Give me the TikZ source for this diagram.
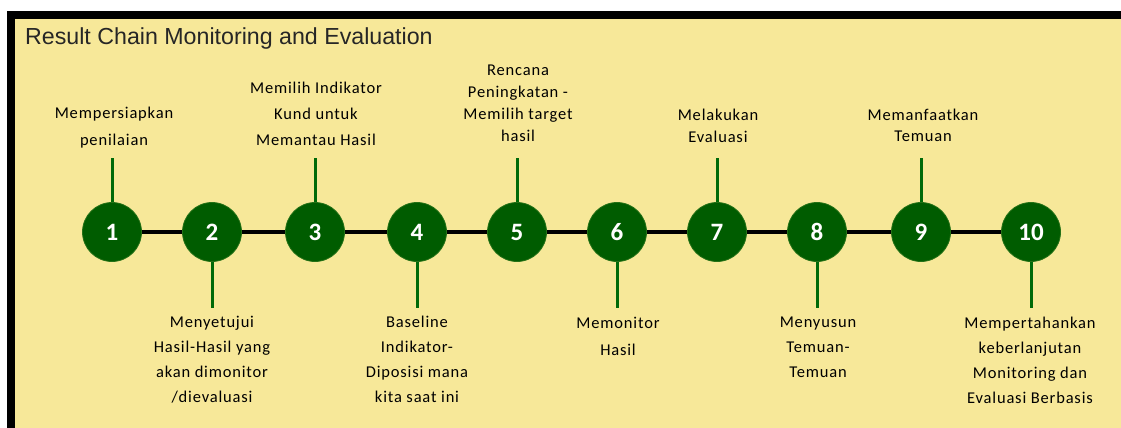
\documentclass[tikz,border=0pt]{standalone}
\usepackage{fontspec}
\setmainfont{Carlito}
\newfontfamily\labelfont[LetterSpace=5]{Carlito}
\newfontfamily\titlefont{Liberation Sans}
\definecolor{paper}{HTML}{F7E899}
\definecolor{stepgreen}{HTML}{005C00}
\definecolor{stemgreen}{HTML}{006A08}
\begin{document}
\begin{tikzpicture}[x=1pt,y=-1pt,
  stepdot/.style={circle,fill=stepgreen,draw=stepgreen!85!paper,line width=0.8pt,minimum size=59pt,inner sep=0pt,
    text=white,font=\fontsize{25}{25}\selectfont\bfseries},
  chainline/.style={line width=4pt,black},
  stemline/.style={line width=3pt,stemgreen},
  steplabel/.style={anchor=north,align=center,inner sep=0pt,
    font=\labelfont\fontsize{16.5}{#1}\selectfont},
  steplabel/.default=25]
% page, frame and panel
\useasboundingbox (0,0) rectangle (1121,428);
\fill[white] (0,0) rectangle (1121,428);
\fill[black] (7,11) rectangle (1121,428);
\fill[paper] (15,19) rectangle (1121,428);
\node[anchor=base west,inner sep=0pt,font=\titlefont\fontsize{23.2}{23}\selectfont,text=black!85]
  (title) at (25,45) {Result Chain Monitoring and Evaluation};

% the ten steps
\foreach \i/\x in {1/112,2/212,3/315,4/417,5/517,6/617,7/717,8/817,9/921,10/1031}
  \node[stepdot] (c\i) at (\x,232) {\i};

% chain between steps
\foreach \a/\b in {1/2,2/3,3/4,4/5,5/6,6/7,7/8,8/9,9/10}
  \draw[chainline] (c\a.east) -- (c\b.west);

% stem ends
\coordinate (s1) at (112,158);
\coordinate (s3) at (315,158);
\coordinate (s5) at (517,158);
\coordinate (s7) at (717,158);
\coordinate (s9) at (921,158);
\coordinate (s2) at (212,308);
\coordinate (s4) at (417,308);
\coordinate (s6) at (617,308);
\coordinate (s8) at (817,308);
\coordinate (s10) at (1031,308);
\foreach \i in {1,3,5,7,9}
  \draw[stemline] (c\i.north) -- (s\i);
\foreach \i in {2,4,6,8,10}
  \draw[stemline] (c\i.south) -- (s\i);

% labels above
\node[steplabel=27] (l1) at (114,107) {Mempersiapkan\\penilaian};
\node[steplabel=26] (l3) at (316,82) {Memilih Indikator\\Kund untuk\\Memantau Hasil};
\node[steplabel=22] (l5) at (518,65) {Rencana\\Peningkatan -\\Memilih target\\hasil};
\node[steplabel=22] (l7) at (718,109) {Melakukan\\Evaluasi};
\node[steplabel=21] (l9) at (923,109) {Memanfaatkan\\Temuan};
% labels below
\node[steplabel=25] (l2) at (212,316) {Menyetujui\\Hasil-Hasil yang\\akan dimonitor\\/dievaluasi};
\node[steplabel=25] (l4) at (417,316) {Baseline\\Indikator-\\Diposisi mana\\kita saat ini};
\node[steplabel=27] (l6) at (618,317) {Memonitor\\Hasil};
\node[steplabel=25] (l8) at (818,317) {Menyusun\\Temuan-\\Temuan};
\node[steplabel=25] (l10) at (1030,317) {Mempertahankan\\keberlanjutan\\Monitoring dan\\Evaluasi Berbasis};
\end{tikzpicture}
\end{document}
